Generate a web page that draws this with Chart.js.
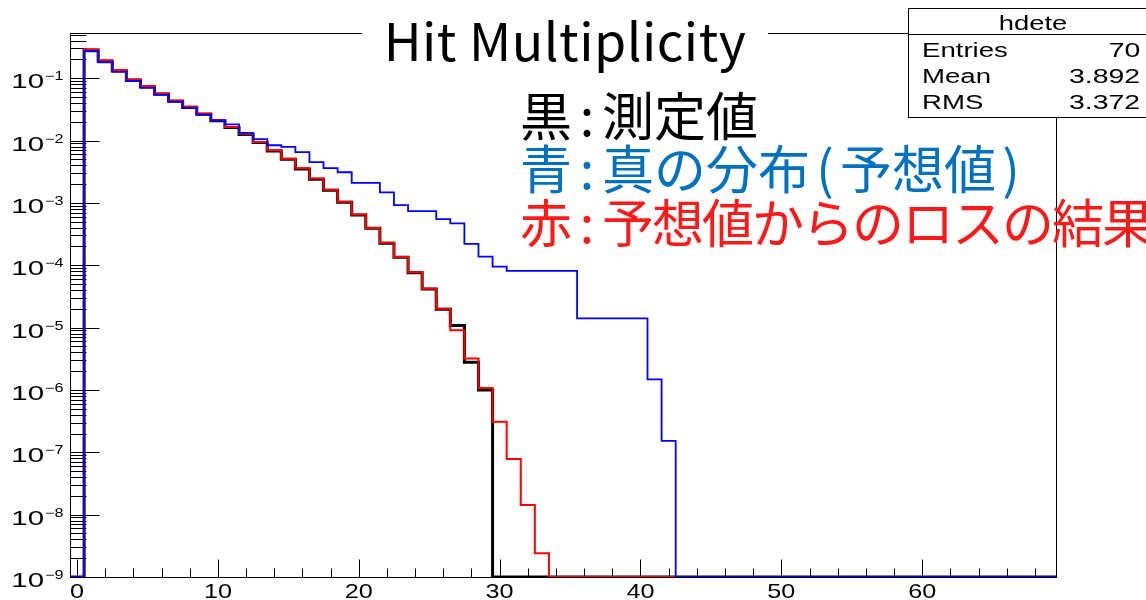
<!DOCTYPE html>
<html>
<head>
<meta charset="utf-8">
<script src="https://cdn.jsdelivr.net/npm/chart.js@4.4.0/dist/chart.umd.min.js"></script>
<style>
  html, body { margin: 0; padding: 0; background: #fff; overflow: hidden; }
  #wrap { position: relative; width: 1146px; height: 600px; overflow: hidden; }
  #chart { position: absolute; left: 0; top: 0; }
  .title {
    position: absolute; left: 362px; top: 13px; width: 406px;
    text-align: center; background: #fff; color: #000;
    font: 52px/1 "Noto Sans CJK JP", sans-serif; letter-spacing: 0.5px; white-space: nowrap;
  }
  .note {
    position: absolute; left: 520px; white-space: nowrap;
    font: 52px/1 "Noto Sans CJK JP", sans-serif;
  }
  .colon { display: inline-block; width: 30px; text-align: center; }
  .par { display: inline-block; width: 30px; text-align: center; }
  .tight { letter-spacing: -2px; }
  .stats {
    position: absolute; left: 908px; top: 8px; width: 250px; height: 110px;
    box-sizing: border-box; border: 1px solid #000; background: #fff;
    font: 20px/1 "Liberation Sans", Arial, sans-serif; color: #000;
  }
  .stats div { position: absolute; white-space: nowrap; }
  .stats .sep { left: 0; right: 0; top: 25px; height: 1px; background: #000; }
  .stats .head { left: 0; right: 0; top: 4px; text-align: center; transform: scaleX(1.37); }
  .stats .lab { left: 13px; transform: scaleX(1.38); transform-origin: left center; }
  .stats .val { right: 17px; text-align: right; transform: scaleX(1.42); transform-origin: right center; }
</style>
</head>
<body>
<div id="wrap">
  <canvas id="chart" width="1146" height="600"></canvas>
  <div class="title">Hit Multiplicity</div>
  <div class="note" style="top:88px;color:#000">黒<span class="colon">:</span>測定値</div>
  <div class="note" style="top:141px;color:#0070c0">青<span class="colon">:</span>真の分布<span class="par">(</span>予想値<span class="par">)</span></div>
  <div class="note" style="top:195px;color:#ff1a1a">赤<span class="colon">:</span><span class="tight">予想値からのロスの結果</span></div>
  <div class="stats">
    <div class="head">hdete</div>
    <div class="sep"></div>
    <div class="lab" style="top:31px">Entries</div><div class="val" style="top:31px">70</div>
    <div class="lab" style="top:57px">Mean</div><div class="val" style="top:57px">3.892</div>
    <div class="lab" style="top:83px">RMS</div><div class="val" style="top:83px">3.372</div>
  </div>
</div>
<script>
// ヒストグラム: 幅1のビン、-0.5 から 69.5 まで (70 ビン)
const BIN_LOW = -0.5;
const N_BINS = 70;

// 黒: 測定値 (bin 0 から; 以降のビンは空)
const measured = [
  0, 0.281, 0.187, 0.131, 0.093, 0.0726, 0.0555, 0.0428, 0.0339, 0.0265,
  0.0207, 0.0162, 0.0125, 0.0093, 0.0068, 0.0050, 0.0035, 0.0024, 0.0016, 0.00102,
  0.00064, 0.00039, 0.000226, 0.000134, 7.6e-5, 4.15e-5, 1.96e-5, 1.08e-5, 2.78e-6, 1.0e-6
];

// 青: 真の分布 (予想値)
const trueDist = [
  0, 0.27, 0.18, 0.126, 0.09, 0.07, 0.054, 0.042, 0.0335, 0.026,
  0.021, 0.0181, 0.0133, 0.0105, 0.0084, 0.0079, 0.0065, 0.0045, 0.0036, 0.0031,
  0.0021, 0.0021, 0.00147, 0.00092, 0.00074, 0.00074, 0.00055, 0.00047, 0.00022, 0.000137,
  9.5e-5, 8.1e-5, 8.1e-5, 8.1e-5, 8.1e-5, 8.1e-5, 1.41e-5, 1.41e-5, 1.41e-5, 1.41e-5,
  1.41e-5, 1.48e-6, 1.52e-7
];

// 赤: 予想値からのロスの結果
const lossResult = [
  0, 0.29, 0.193, 0.135, 0.096, 0.075, 0.057, 0.044, 0.035, 0.0272,
  0.0212, 0.0165, 0.0128, 0.0095, 0.0070, 0.0051, 0.0036, 0.00245, 0.00163, 0.00104,
  0.00065, 0.000395, 0.000229, 0.000136, 7.7e-5, 4.2e-5, 2.0e-5, 9.1e-6, 3.2e-6, 1.07e-6,
  3.1e-7, 7.8e-8, 1.43e-8, 2.4e-9
];

// 軸
const X_MIN = -0.5;
const X_MAX = 69.5;
const Y_MIN = 1e-9;
const Y_MAX = 0.53;
const xTicks = [0, 10, 20, 30, 40, 50, 60];
const yDecades = [-9, -8, -7, -6, -5, -4, -3, -2, -1];

// ROOT風の階段: ビン左端に点を置き、最後に右端を足す
// 空のビンは対数軸の下端に落とす
function histPoints(values) {
  const pts = [];
  for (let i = 0; i < N_BINS; i++) {
    const v = values[i] > 0 ? values[i] : Y_MIN;
    pts.push({ x: BIN_LOW + i, y: v });
  }
  pts.push({ x: BIN_LOW + N_BINS, y: pts[pts.length - 1].y });
  return pts;
}

// 横に伸ばした文字 (元画像の文字は横長)
function wideText(ctx, text, x, y, sx) {
  ctx.save();
  ctx.translate(x, y);
  ctx.scale(sx, 1);
  ctx.fillText(text, 0, 0);
  ctx.restore();
}

// 枠・目盛り・目盛りラベル (ROOTのように内側に目盛り)
const rootFrame = {
  id: "rootFrame",
  beforeDatasetsDraw(chart) {
    const { ctx, chartArea: a } = chart;
    const xs = chart.scales.x;
    const ys = chart.scales.y;
    const L = Math.round(a.left) + 0.5;
    const R = Math.round(a.right) + 0.5;
    const T = Math.round(a.top) + 0.5;
    const B = Math.round(a.bottom) + 0.5;

    ctx.save();
    ctx.strokeStyle = "#000";
    ctx.lineWidth = 1;
    ctx.strokeRect(L, T, R - L, B - T);

    ctx.beginPath();
    // x 目盛り
    for (let t = 0; t <= 68; t += 2) {
      const px = Math.round(xs.getPixelForValue(t)) + 0.5;
      const len = t % 10 === 0 ? 18 : 9;
      ctx.moveTo(px, B);
      ctx.lineTo(px, B - len);
    }
    // y 目盛り
    for (let e = -9; e <= 0; e++) {
      for (let m = 1; m <= 9; m++) {
        const v = m * Number("1e" + e);
        if (v < Y_MIN || v > Y_MAX) continue;
        const py = Math.round(ys.getPixelForValue(v)) + 0.5;
        ctx.moveTo(L, py);
        ctx.lineTo(L + (m === 1 ? 29 : 16), py);
      }
    }
    ctx.stroke();

    ctx.fillStyle = "#000";
    ctx.textBaseline = "alphabetic";
    ctx.font = '21px "Liberation Sans", Arial, sans-serif';
    ctx.textAlign = "center";
    xTicks.forEach((t) => {
      wideText(ctx, String(t), xs.getPixelForValue(t), a.bottom + 21, 1.2);
    });

    yDecades.forEach((e) => {
      const py = ys.getPixelForValue(Number("1e" + e));
      ctx.font = '21px "Liberation Sans", Arial, sans-serif';
      ctx.textAlign = "right";
      wideText(ctx, "10", 44, py + 10, 1.4);
      ctx.font = '12px "Liberation Sans", Arial, sans-serif';
      ctx.textAlign = "left";
      wideText(ctx, "\u2212" + Math.abs(e), 45, py + 2, 1.35);
    });
    ctx.restore();
  },
};

function histDataset(label, values, color, width) {
  return {
    label: label,
    data: histPoints(values),
    borderColor: color,
    borderWidth: width,
    stepped: "before",
    pointRadius: 0,
    fill: false,
    tension: 0,
    borderJoinStyle: "miter",
  };
}

const ctx = document.getElementById("chart").getContext("2d");
new Chart(ctx, {
  type: "line",
  data: {
    // 先頭のデータセットが一番上に描かれる
    datasets: [
      histDataset("真の分布", trueDist, "#0000ff", 1.8),
      histDataset("ロスの結果", lossResult, "#ff0000", 2),
      histDataset("測定値", measured, "#000000", 3),
    ],
  },
  options: {
    responsive: false,
    animation: false,
    devicePixelRatio: 1,
    layout: { padding: { left: 70, right: 90, top: 33, bottom: 23 } },
    plugins: {
      legend: { display: false },
      tooltip: { enabled: false },
    },
    scales: {
      x: { type: "linear", min: X_MIN, max: X_MAX, display: false },
      y: { type: "logarithmic", min: Y_MIN, max: Y_MAX, display: false },
    },
  },
  plugins: [rootFrame],
});
</script>
</body>
</html>
